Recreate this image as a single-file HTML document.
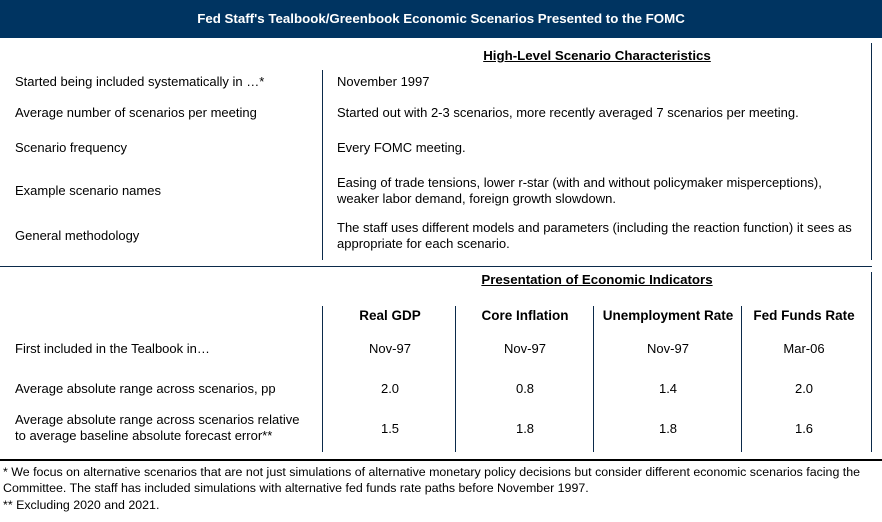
<!DOCTYPE html>
<html><head><meta charset="utf-8"><style>
body{margin:0;width:882px;height:522px;background:#fff;font-family:"Liberation Sans",Arial,sans-serif;font-size:13px;color:#000;position:relative;overflow:hidden}
div,span{position:absolute}
.t{white-space:nowrap;line-height:16px}
.c{text-align:center;transform:translateX(-50%)}
.b{font-weight:bold}
.vl{width:1px;background:#0b2a4a}
.hl{height:1px;background:#0b2a4a}
</style></head><body>
<div style="left:0;top:0;width:882px;height:38px;background:#003461"></div>
<div class="t c b" style="left:441px;top:11px;color:#fff;font-size:13.3px">Fed Staff's Tealbook/Greenbook Economic Scenarios Presented to the FOMC</div>

<div class="t c b" style="left:597px;top:48px;text-decoration:underline;font-size:13.3px">High-Level Scenario Characteristics</div>
<div class="vl" style="left:322px;top:70px;height:190px"></div>
<div class="vl" style="left:871px;top:43px;height:217px"></div>
<div class="hl" style="left:0;top:266px;width:872px"></div>

<div class="t" style="left:15px;top:74px">Started being included systematically in …*</div>
<div class="t" style="left:337px;top:74px">November 1997</div>
<div class="t" style="left:15px;top:105px">Average number of scenarios per meeting</div>
<div class="t" style="left:337px;top:105px">Started out with 2-3 scenarios, more recently averaged 7 scenarios per meeting.</div>
<div class="t" style="left:15px;top:140px">Scenario frequency</div>
<div class="t" style="left:337px;top:140px">Every FOMC meeting.</div>
<div class="t" style="left:15px;top:183px">Example scenario names</div>
<div class="t" style="left:337px;top:175px">Easing of trade tensions, lower r-star (with and without policymaker misperceptions),<br>weaker labor demand, foreign growth slowdown.</div>
<div class="t" style="left:15px;top:228px">General methodology</div>
<div class="t" style="left:337px;top:220px">The staff uses different models and parameters (including the reaction function) it sees as<br>appropriate for each scenario.</div>

<div class="t c b" style="left:597px;top:272px;text-decoration:underline;font-size:13.3px">Presentation of Economic Indicators</div>
<div class="vl" style="left:322px;top:306px;height:146px"></div>
<div class="vl" style="left:455px;top:306px;height:146px"></div>
<div class="vl" style="left:593px;top:306px;height:146px"></div>
<div class="vl" style="left:741px;top:306px;height:146px"></div>
<div class="vl" style="left:871px;top:272px;height:180px"></div>

<div class="t c b" style="left:390px;top:308px;font-size:13.5px">Real GDP</div>
<div class="t c b" style="left:525px;top:308px;font-size:13.5px">Core Inflation</div>
<div class="t c b" style="left:668px;top:308px;font-size:13.5px">Unemployment Rate</div>
<div class="t c b" style="left:804px;top:308px;font-size:13.5px">Fed Funds Rate</div>

<div class="t" style="left:15px;top:341px">First included in the Tealbook in…</div>
<div class="t c" style="left:390px;top:341px">Nov-97</div>
<div class="t c" style="left:525px;top:341px">Nov-97</div>
<div class="t c" style="left:668px;top:341px">Nov-97</div>
<div class="t c" style="left:804px;top:341px">Mar-06</div>

<div class="t" style="left:15px;top:381px">Average absolute range across scenarios, pp</div>
<div class="t c" style="left:390px;top:381px">2.0</div>
<div class="t c" style="left:525px;top:381px">0.8</div>
<div class="t c" style="left:668px;top:381px">1.4</div>
<div class="t c" style="left:804px;top:381px">2.0</div>

<div class="t" style="left:15px;top:412px">Average absolute range across scenarios relative<br>to average baseline absolute forecast error**</div>
<div class="t c" style="left:390px;top:421px">1.5</div>
<div class="t c" style="left:525px;top:421px">1.8</div>
<div class="t c" style="left:668px;top:421px">1.8</div>
<div class="t c" style="left:804px;top:421px">1.6</div>

<div style="left:0;top:459px;width:882px;height:2px;background:#000"></div>
<div class="t" style="left:3px;top:464px;font-size:12.4px">* We focus on alternative scenarios that are not just simulations of alternative monetary policy decisions but consider different economic scenarios facing the<br>Committee. The staff has included simulations with alternative fed funds rate paths before November 1997.</div>
<div class="t" style="left:3px;top:497px;font-size:12.4px">** Excluding 2020 and 2021.</div>
</body></html>
